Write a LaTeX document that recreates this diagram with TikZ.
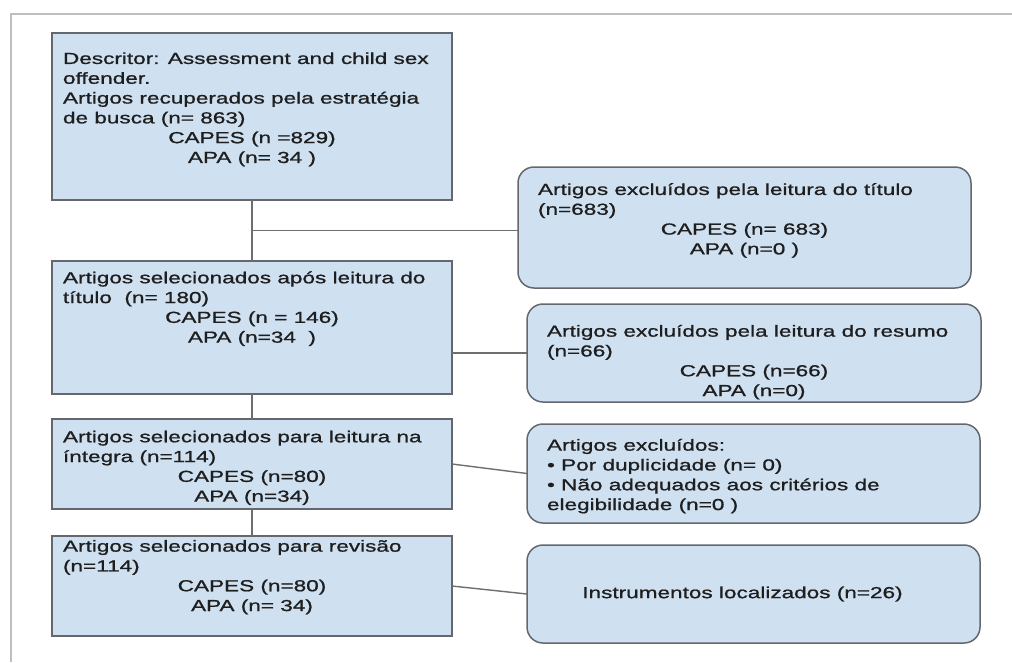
\documentclass[tikz,border=0pt]{standalone}
\usepackage{fontspec}
\setmainfont[FakeStretch=1.41,FakeBold=1]{Liberation Sans}
\usetikzlibrary{calc}
\definecolor{boxc}{RGB}{207,224,241}
\definecolor{bordc}{RGB}{100,104,110}
\definecolor{linec}{RGB}{110,110,110}
\definecolor{txtc}{RGB}{30,30,30}
\definecolor{framec}{RGB}{190,190,190}
\newcommand\fsz{\fontsize{16}{19.8}\selectfont}
\newcommand\lft[1]{\mbox{#1}\par}
\newcommand\ctr[1]{\makebox[\linewidth]{#1}\par}
\newcommand\bxt[4]{\begin{minipage}[t][#1pt][t]{#2pt}\vspace*{#3pt}#4\end{minipage}}
\begin{document}
\begin{tikzpicture}[x=1pt,y=-1pt,
  sqbox/.style={draw=bordc, fill=boxc, line width=1.5pt, outer sep=0pt,
    inner xsep=11pt, inner ysep=0pt, anchor=north west, text=txtc, font=\fsz},
  rdbox/.style={sqbox, rounded corners=16pt, inner xsep=20pt},
  conn/.style={draw=linec, line width=1.4pt}]
\useasboundingbox (0,0) rectangle (1012,662);
\draw[framec, line width=1.5pt] (11,662) -- (11,14) -- (1012,14);

\node[sqbox] (b1) at (52,33) {\bxt{167}{378}{17.1}{%
  \lft{\strut Descritor: Assessment and child sex}%
  \lft{offender.}%
  \lft{Artigos recuperados pela estratégia}%
  \lft{de busca (n= 863)}%
  \ctr{CAPES (n =829)}%
  \ctr{APA (n= 34 )}}};
\node[sqbox] (b2) at (52,261) {\bxt{133}{378}{8.4}{%
  \lft{\strut Artigos selecionados após leitura do}%
  \lft{título\ \ (n= 180)}%
  \ctr{CAPES (n = 146)}%
  \ctr{APA (n=34\ \ )}}};
\node[sqbox] (b3) at (52,419) {\bxt{90}{378}{9.4}{%
  \lft{\strut Artigos selecionados para leitura na}%
  \lft{íntegra (n=114)}%
  \ctr{CAPES (n=80)}%
  \ctr{APA (n=34)}}};
\node[sqbox] (b4) at (52,536) {\bxt{100}{378}{1.8}{%
  \lft{\strut Artigos selecionados para revisão}%
  \lft{(n=114)}%
  \ctr{CAPES (n=80)}%
  \ctr{APA (n= 34)}}};

\node[rdbox] (r1) at (518,167) {\bxt{121}{413}{14.1}{%
  \lft{\strut Artigos excluídos pela leitura do título}%
  \lft{(n=683)}%
  \ctr{CAPES (n= 683)}%
  \ctr{APA (n=0 )}}};
\node[rdbox] (r2) at (527,304) {\bxt{98}{414}{18.8}{%
  \lft{\strut Artigos excluídos pela leitura do resumo}%
  \lft{(n=66)}%
  \ctr{CAPES (n=66)}%
  \ctr{APA (n=0)}}};
\node[rdbox] (r3) at (527,424) {\bxt{99}{413}{12.8}{%
  \lft{\strut Artigos excluídos:}%
  \lft{• Por duplicidade (n= 0)}%
  \lft{• Não adequados aos critérios de}%
  \lft{elegibilidade (n=0 )}}};
\node[rdbox, minimum width=453pt, minimum height=98pt, inner xsep=0pt] (r4) at (527,545)
  {\hspace*{-22pt}Instrumentos localizados (n=26)};

\draw[conn] (b1.south) -- (b2.north);
\draw[conn] (b2.south) -- (b3.north);
\draw[conn] (b3.south) -- (b4.north);
\coordinate (j1) at ($(b1.south)!0.5!(b2.north)$);
\draw[conn] (j1) -- (j1 -| r1.west);
\draw[conn] (r2.west -| b2.east) -- (r2.west);
\draw[conn] (b3.east) -- (r3.west);
\draw[conn] (b4.east) -- (r4.west);
\end{tikzpicture}
\end{document}
